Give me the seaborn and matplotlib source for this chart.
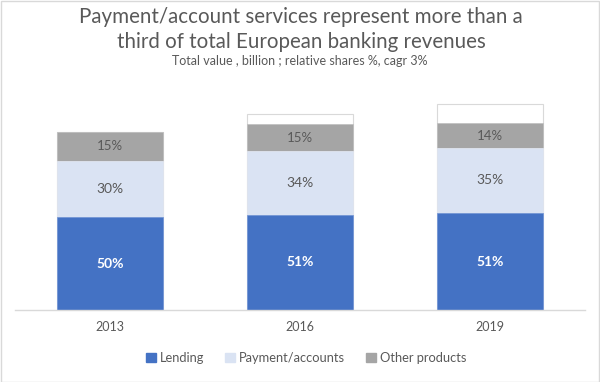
import matplotlib
matplotlib.use("Agg")
import matplotlib.pyplot as plt
import seaborn as sns
import pandas as pd
import numpy as np
from matplotlib.patches import Patch, Rectangle

years = ["2013", "2016", "2019"]
lending = [93, 95, 97]
payments = [56, 64, 65]
other = [29, 27, 25]
blank = [0, 10, 19]
lending_lbl = ["50%", "51%", "51%"]
payments_lbl = ["30%", "34%", "35%"]
other_lbl = ["15%", "15%", "14%"]

sns.set_theme(style="white")
plt.rcParams["font.family"] = ["Lato", "DejaVu Sans"]

c_lend = "#4472C4"
c_pay = "#DAE3F3"
c_oth = "#A5A5A5"
txt = "#595959"

fig = plt.figure(figsize=(6, 3.82), dpi=100)
ax = fig.add_axes([0.025, 1 - 310 / 382, 0.95, 235 / 382])

c1 = np.array(lending, dtype=float)
c2 = c1 + np.array(payments)
c3 = c2 + np.array(other)
c4 = c3 + np.array(blank)

df = pd.DataFrame({"year": years, "c1": c1, "c2": c2, "c3": c3, "c4": c4})
w = 0.56
sns.barplot(data=df, x="year", y="c4", color="white", edgecolor="#D9D9D9", linewidth=0.8, width=w, ax=ax, saturation=1)
sns.barplot(data=df, x="year", y="c3", color=c_oth, edgecolor="#BFBFBF", linewidth=0.5, width=w, ax=ax, saturation=1)
sns.barplot(data=df, x="year", y="c2", color=c_pay, edgecolor="#E6ECF7", linewidth=0.5, width=w, ax=ax, saturation=1)
sns.barplot(data=df, x="year", y="c1", color=c_lend, edgecolor="#6F92D3", linewidth=0.5, width=w, ax=ax, saturation=1)

for i in range(3):
    ax.text(i, c1[i] / 2, lending_lbl[i], ha="center", va="center", color="white", fontsize=10, fontweight="bold")
    ax.text(i, (c1[i] + c2[i]) / 2, payments_lbl[i], ha="center", va="center", color=txt, fontsize=10)
    ax.text(i, (c2[i] + c3[i]) / 2, other_lbl[i], ha="center", va="center", color=txt, fontsize=9.5)

ax.set_xlim(-0.5, 2.5)
ax.set_ylim(0, 235)
ax.set_xlabel("")
ax.set_ylabel("")
ax.set_yticks([])
ax.tick_params(axis="x", colors=txt, labelsize=9, length=0, pad=8)
for s in ["top", "right", "left"]:
    ax.spines[s].set_visible(False)
ax.spines["bottom"].set_color("#D9D9D9")
ax.spines["bottom"].set_linewidth(1)

fig.text(0.502, 1 - 17 / 382, "Payment/account services represent more than a", ha="center", va="center", fontsize=14.8, color=txt)
fig.text(0.502, 1 - 42 / 382, "third of total European banking revenues", ha="center", va="center", fontsize=14.8, color=txt)
fig.text(0.5, 1 - 61 / 382, "Total value , billion ; relative shares %, cagr 3%", ha="center", va="center", fontsize=9, color=txt)

handles = [Patch(facecolor=c_lend, edgecolor=c_lend), Patch(facecolor=c_pay, edgecolor=c_pay), Patch(facecolor=c_oth, edgecolor=c_oth)]
fig.legend(handles, ["Lending", "Payment/accounts", "Other products"], loc="center", bbox_to_anchor=(0.51, 1 - 358 / 382),
           ncol=3, frameon=False, fontsize=9.3, labelcolor=txt, handlelength=0.8, handleheight=0.8, handletextpad=0.3, columnspacing=1.6)

fig.patches.append(Rectangle((0.001, 0.001), 0.997, 0.997, transform=fig.transFigure, fill=False, edgecolor="#D9D9D9", linewidth=1))

fig.savefig("out.png", dpi=100)
